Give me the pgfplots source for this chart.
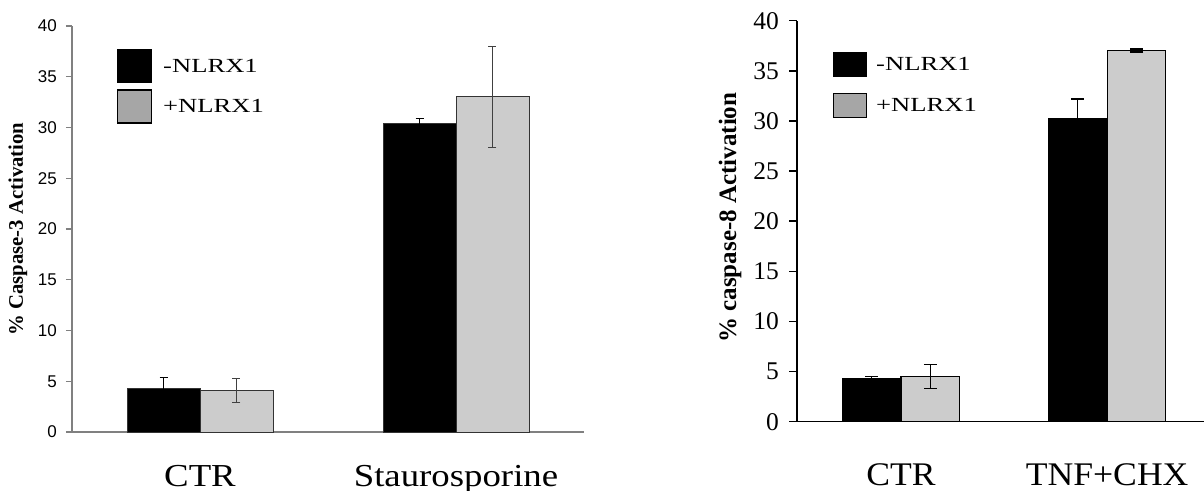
\documentclass[border=0pt]{standalone}
\usepackage{pgfplots}
\pgfplotsset{compat=1.18}
\usepackage{pgfplotstable}
\usepackage{graphicx}
\usepackage{fontspec}
\setmainfont{Liberation Serif}
\setsansfont{Liberation Sans}
\definecolor{bargray}{HTML}{CCCCCC}
\definecolor{leggray}{HTML}{A6A6A6}
\definecolor{axgray}{HTML}{808080}
\definecolor{errgray}{HTML}{404040}

% left panel: caspase-3
\pgfplotstableread{
x y ep em
0 4.30 1.05 1.05
1 30.41 0.46 0.46
}\leftA
\pgfplotstableread{
x y ep em
0 4.10 1.16 1.16
1 33.02 4.96 4.96
}\leftB
% right panel: caspase-8
\pgfplotstableread{
x y ep em
0 4.29 0.20 0.20
1 30.21 1.97 1.97
}\rightA
\pgfplotstableread{
x y ep em
0 4.49 1.20 1.20
1 37.03 0.15 0.15
}\rightB

\begin{document}
\begin{tikzpicture}
\useasboundingbox (0,0) rectangle (1204bp,491bp);
\begin{axis}[
  at={(72bp,59bp)}, anchor=south west,
  scale only axis, width=512bp, height=406bp,
  xmin=-0.5, xmax=1.5, ymin=0, ymax=40,
  enlargelimits=false, clip=false,
  axis x line=bottom, axis y line=left,
  axis line style={-, draw=axgray, line width=1.3bp},
  xtick={0,1}, xticklabels={\scalebox{1.15}[1]{CTR},\scalebox{1.15}[1]{Staurosporine}},
  x tick style={draw=none},
  xticklabel style={anchor=base, yshift=-48bp, font=\fontsize{32bp}{36bp}\selectfont},
  ytick={0,5,...,40},
  yticklabels={0,5,10,15,20,25,30,35,40},
  y tick style={draw=axgray, line width=1.3bp},
  tick align=outside, major tick length=6bp,
  yticklabel style={font=\sffamily\fontsize{17bp}{20bp}\selectfont, anchor=east, inner sep=0pt, xshift=-9bp},
  ylabel={\% Caspase-3 Activation},
  every axis y label/.style={at={(rel axis cs:0,0.5)}, xshift=-54bp, rotate=90, anchor=center, font=\bfseries\fontsize{20.7bp}{24bp}\selectfont},
  ybar, bar width=0.285,
  legend cell align=left,
  legend style={at={(0.0879,0.943)}, anchor=north west, draw=none, fill=none, inner sep=0pt, outer sep=0pt, row sep=6bp, column sep=11bp, font=\fontsize{20bp}{22bp}\selectfont, nodes={inner sep=0pt}},
]
\addlegendimage{legend image code/.code={\draw[fill=black,draw=black,line width=1.2bp] (0bp,-16.5bp) rectangle (34bp,16.5bp);}}
\addlegendentry{\scalebox{1.33}[1]{-NLRX1}}
\addlegendimage{legend image code/.code={\draw[fill=leggray,draw=black,line width=1.2bp] (0bp,-16.5bp) rectangle (34bp,16.5bp);}}
\addlegendentry{\scalebox{1.33}[1]{+NLRX1}}
\addplot[forget plot, fill=black, draw=black!80, line width=0.8bp, bar shift=-0.1425,
  error bars/.cd, y dir=both, y explicit,
  error bar style={draw=black, line width=1bp},
  error mark options={rotate=90, mark size=4bp, draw=black, line width=1bp}]
  table[x=x, y=y, y error plus=ep, y error minus=em]{\leftA};
\addplot[forget plot, fill=bargray, draw=black!80, line width=0.8bp, bar shift=0.1425,
  error bars/.cd, y dir=both, y explicit,
  error bar style={draw=errgray, line width=1bp},
  error mark options={rotate=90, mark size=4bp, draw=errgray, line width=1bp}]
  table[x=x, y=y, y error plus=ep, y error minus=em]{\leftB};
\end{axis}

\begin{axis}[
  at={(797bp,69.3bp)}, anchor=south west,
  scale only axis, width=407bp, height=401bp,
  xmin=-0.505, xmax=1.47, ymin=0, ymax=40,
  enlargelimits=false, clip=false,
  axis x line=bottom, axis y line=left,
  axis line style={-, draw=black, line width=1.5bp},
  xtick={0,1}, xticklabels={\scalebox{1.08}[1]{CTR},\scalebox{1.08}[1]{TNF+CHX}},
  x tick style={draw=none},
  xticklabel style={anchor=base, yshift=-56bp, font=\fontsize{33bp}{36bp}\selectfont},
  ytick={0,5,...,40},
  yticklabels={0,5,10,15,20,25,30,35,40},
  y tick style={draw=black, line width=1.5bp},
  tick align=outside, major tick length=8bp,
  yticklabel style={font=\fontsize{25.5bp}{28bp}\selectfont, anchor=east, inner sep=0pt, xshift=-10bp},
  ylabel={\% caspase-8 Activation},
  every axis y label/.style={at={(rel axis cs:0,0.509)}, xshift=-67bp, rotate=90, anchor=center, font=\bfseries\fontsize{25bp}{28bp}\selectfont},
  ybar, bar width=0.285,
  legend cell align=left,
  legend style={at={(0.0885,0.923)}, anchor=north west, draw=none, fill=none, inner sep=0pt, outer sep=0pt, row sep=16bp, column sep=9bp, font=\fontsize{20bp}{22bp}\selectfont, nodes={inner sep=0pt}},
]
\addlegendimage{legend image code/.code={\draw[fill=black,draw=black,line width=1.2bp] (0bp,-12bp) rectangle (33bp,12bp);}}
\addlegendentry{\scalebox{1.33}[1]{-NLRX1}}
\addlegendimage{legend image code/.code={\draw[fill=leggray,draw=black,line width=1.2bp] (0bp,-12bp) rectangle (33bp,12bp);}}
\addlegendentry{\scalebox{1.33}[1]{+NLRX1}}
\addplot[forget plot, fill=black, draw=black, line width=1.2bp, bar shift=-0.1425,
  error bars/.cd, y dir=both, y explicit,
  error bar style={draw=black, line width=1.2bp},
  error mark options={rotate=90, mark size=6.5bp, draw=black, line width=1.2bp}]
  table[x=x, y=y, y error plus=ep, y error minus=em]{\rightA};
\addplot[forget plot, fill=bargray, draw=black, line width=1.2bp, bar shift=0.1425,
  error bars/.cd, y dir=both, y explicit,
  error bar style={draw=black, line width=1.2bp},
  error mark options={rotate=90, mark size=6.5bp, draw=black, line width=1.2bp}]
  table[x=x, y=y, y error plus=ep, y error minus=em]{\rightB};
\end{axis}
\end{tikzpicture}
\end{document}
